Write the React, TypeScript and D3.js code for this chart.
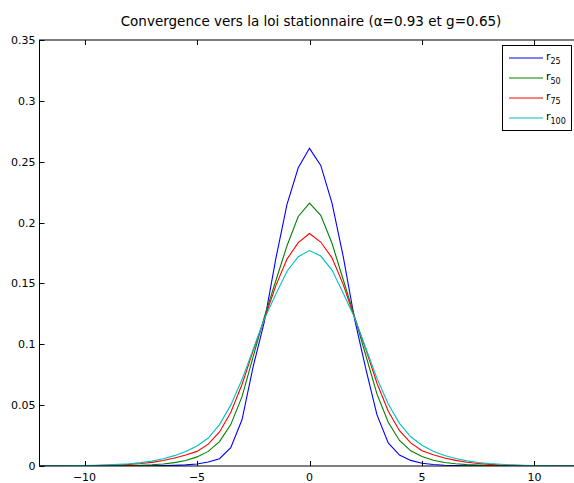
import { useEffect, useRef } from "react";
import * as d3 from "d3";

// abscisses (pas de 0.5)
const xs = [
  -12, -11.5, -11, -10.5, -10, -9.5, -9, -8.5, -8, -7.5, -7, -6.5, -6, -5.5, -5, -4.5, -4, -3.5, -3, -2.5, -2, -1.5, -1,
  -0.5, 0, 0.5, 1, 1.5, 2, 2.5, 3, 3.5, 4, 4.5, 5, 5.5, 6, 6.5, 7, 7.5, 8, 8.5, 9, 9.5, 10, 10.5, 11, 11.5, 12,
];

const r25 = [
  0, 0, 0, 0, 0, 0, 0, 0, 0, 0.0001, 0.0002, 0.0003, 0.0005, 0.0009, 0.0017, 0.0033, 0.006, 0.015, 0.038, 0.082, 0.119,
  0.17, 0.215, 0.245, 0.261, 0.247, 0.216, 0.172, 0.121, 0.08, 0.042, 0.019, 0.009, 0.0046, 0.0022, 0.0012, 0.0006,
  0.0003, 0.0002, 0.0001, 0, 0, 0, 0, 0, 0, 0, 0, 0,
];

const r50 = [
  0, 0, 0, 0, 0, 0, 0.0001, 0.0002, 0.0004, 0.0006, 0.001, 0.0017, 0.0028, 0.0045, 0.0075, 0.012, 0.02, 0.034, 0.057,
  0.09, 0.123, 0.152, 0.181, 0.205, 0.216, 0.206, 0.183, 0.153, 0.123, 0.091, 0.059, 0.036, 0.021, 0.0125, 0.0078,
  0.0047, 0.0029, 0.0018, 0.0011, 0.0007, 0.0004, 0.0002, 0.0001, 0, 0, 0, 0, 0, 0,
];

const r75 = [
  0, 0, 0, 0.0001, 0.0002, 0.0003, 0.0005, 0.0008, 0.0013, 0.002, 0.003, 0.0045, 0.0065, 0.009, 0.012, 0.018, 0.028,
  0.044, 0.067, 0.095, 0.121, 0.148, 0.17, 0.1835, 0.191, 0.184, 0.171, 0.149, 0.122, 0.096, 0.068, 0.045, 0.029, 0.019,
  0.0125, 0.0092, 0.0066, 0.0046, 0.0031, 0.0021, 0.0013, 0.0008, 0.0005, 0.0003, 0.0002, 0.0001, 0, 0, 0,
];

const r100 = [
  0.0001, 0.0001, 0.0002, 0.0003, 0.0004, 0.0006, 0.0009, 0.0013, 0.0019, 0.0028, 0.004, 0.006, 0.0085, 0.012, 0.0165,
  0.023, 0.034, 0.05, 0.071, 0.096, 0.121, 0.141, 0.16, 0.172, 0.177, 0.1725, 0.161, 0.142, 0.122, 0.097, 0.072, 0.051,
  0.035, 0.024, 0.017, 0.0122, 0.0087, 0.0062, 0.0042, 0.0029, 0.002, 0.0014, 0.0009, 0.0006, 0.0004, 0.0003, 0.0002,
  0.0001, 0.0001,
];

const seriesNames = ["25", "50", "75", "100"];
const seriesValues = [r25, r50, r75, r100];
const colors = ["#0000ff", "#008000", "#ff0000", "#00bfbf"];

const xTicks = [-10, -5, 0, 5, 10];
const yTicks = [0, 0.05, 0.1, 0.15, 0.2, 0.25, 0.3, 0.35];

const title = "Convergence vers la loi stationnaire (α=0.93 et g=0.65)";

const App = () => {
  const svgRef = useRef<SVGSVGElement | null>(null);

  useEffect(() => {
    if (!svgRef.current) return;
    const W = 574;
    const H = 483;
    const left = 39.5;
    const top = 40;
    const right = 579.5;
    const bottom = 466;
    const font = "DejaVu Sans, sans-serif";

    const svg = d3.select(svgRef.current);
    svg.selectAll("*").remove();
    svg.attr("width", W).attr("height", H);

    svg.append("rect").attr("width", W).attr("height", H).attr("fill", "#fff");

    const x = d3.scaleLinear().domain([-12, 12]).range([left, right]);
    const y = d3.scaleLinear().domain([0, 0.35]).range([bottom, top]);

    svg
      .append("defs")
      .append("clipPath")
      .attr("id", "plotclip")
      .append("rect")
      .attr("x", left)
      .attr("y", top)
      .attr("width", right - left)
      .attr("height", bottom - top);

    // courbes
    const line = d3
      .line<number>()
      .x((_, i) => x(xs[i]))
      .y((d) => y(d));

    const g = svg.append("g").attr("clip-path", "url(#plotclip)");
    seriesValues.forEach((vals, k) => {
      g.append("path")
        .datum(vals)
        .attr("fill", "none")
        .attr("stroke", colors[k])
        .attr("stroke-width", 1.1)
        .attr("d", line);
    });

    // cadre
    svg
      .append("rect")
      .attr("x", left)
      .attr("y", top)
      .attr("width", right - left)
      .attr("height", bottom - top)
      .attr("fill", "none")
      .attr("stroke", "#000")
      .attr("stroke-width", 1);

    // axe x (ticks intérieurs, haut et bas)
    const tl = 5;
    xTicks.forEach((t) => {
      const px = Math.round(x(t)) + 0.5;
      svg.append("line").attr("x1", px).attr("x2", px).attr("y1", bottom).attr("y2", bottom - tl).attr("stroke", "#000");
      svg.append("line").attr("x1", px).attr("x2", px).attr("y1", top).attr("y2", top + tl).attr("stroke", "#000");
      svg
        .append("text")
        .attr("x", x(t))
        .attr("y", 481)
        .attr("text-anchor", "middle")
        .attr("font-family", font)
        .attr("font-size", 11)
        .attr("fill", "#000")
        .text(t < 0 ? "\u2212" + Math.abs(t) : String(t));
    });

    // axe y
    yTicks.forEach((t) => {
      const py = Math.round(y(t)) + 0.5;
      svg.append("line").attr("x1", left).attr("x2", left + tl).attr("y1", py).attr("y2", py).attr("stroke", "#000");
      svg.append("line").attr("x1", right).attr("x2", right - tl).attr("y1", py).attr("y2", py).attr("stroke", "#000");
      svg
        .append("text")
        .attr("x", 35.5)
        .attr("y", y(t) + 4)
        .attr("text-anchor", "end")
        .attr("font-family", font)
        .attr("font-size", 11)
        .attr("fill", "#000")
        .text(String(t));
    });

    // titre
    svg
      .append("text")
      .attr("x", 311)
      .attr("y", 26)
      .attr("text-anchor", "middle")
      .attr("font-family", font)
      .attr("font-size", 13.5)
      .attr("fill", "#000")
      .text(title);

    // légende
    const lg = svg.append("g");
    lg.append("rect")
      .attr("x", 502.5)
      .attr("y", 45.5)
      .attr("width", 69)
      .attr("height", 85)
      .attr("fill", "#fff")
      .attr("stroke", "#000");
    seriesNames.forEach((name, k) => {
      const ry = Math.round(57.7 + k * 20.2);
      lg.append("line")
        .attr("x1", 509)
        .attr("x2", 543)
        .attr("y1", ry)
        .attr("y2", ry)
        .attr("stroke", colors[k])
        .attr("stroke-width", 1.2);
      const t = lg
        .append("text")
        .attr("x", 546)
        .attr("y", ry + 2)
        .attr("font-family", font)
        .attr("font-size", 11)
        .attr("fill", "#000");
      t.append("tspan").text("r");
      t.append("tspan").attr("dy", 4).attr("font-size", 8).text(name);
    });
  }, []);

  return (
    <div style={{ position: "absolute", left: 0, top: 0, width: 574, height: 483, overflow: "hidden" }}>
      <svg ref={svgRef} style={{ display: "block" }}></svg>
    </div>
  );
};

export default App;
